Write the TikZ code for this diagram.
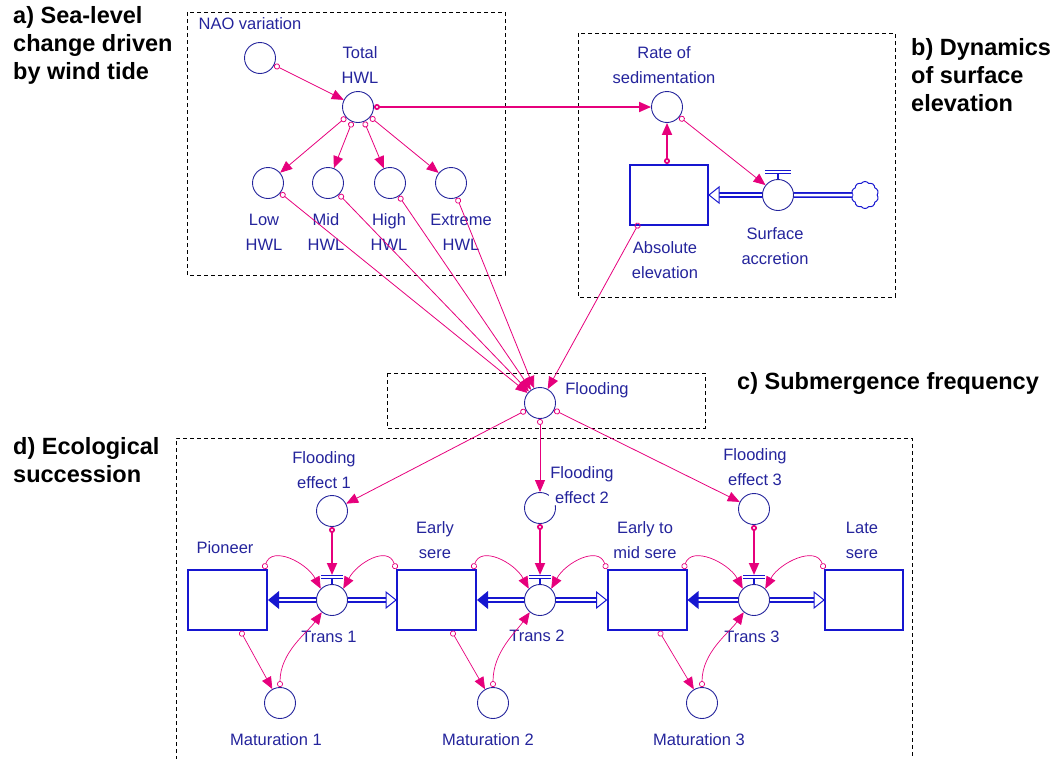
\documentclass[tikz,border=0pt]{standalone}
\usepackage{fontspec}
\setmainfont{Liberation Sans}
\usetikzlibrary{arrows.meta,shapes.symbols,calc}

\definecolor{lnk}{HTML}{E6007C}
\definecolor{navy}{HTML}{24249C}
\definecolor{stockblue}{HTML}{1616D0}

\begin{document}
\begin{tikzpicture}[x=1pt,y=-1pt,
  conv/.style={circle,draw=navy,fill=white,line width=0.9pt,minimum size=31pt,inner sep=0pt},
  stock/.style={rectangle,draw=stockblue,fill=white,line width=2pt,minimum width=79pt,minimum height=60pt,inner sep=0pt},
  cloudsrc/.style={cloud,cloud puffs=10,cloud puff arc=110,aspect=1,draw=stockblue,line width=1pt,minimum width=27pt,minimum height=27pt,inner sep=0pt},
  lbl/.style={text=navy,font=\fontsize{16.5}{25}\selectfont,align=center,inner sep=0pt},
  sec/.style={text=black,font=\fontsize{23.5}{28}\selectfont\bfseries,inner sep=0pt},
  zone/.style={draw=black,line width=0.9pt,dash pattern=on 4pt off 3pt},
  link/.style={draw=lnk,line width=0.8pt,{Circle[open,length=6pt,width=6pt]}-{Triangle[length=12pt,width=10pt]}},
  boldlink/.style={link,line width=1.8pt},
  arc/.style={link,line width=0.7pt},
  pipe/.style={draw=stockblue,double=white,double distance=2.5pt,line width=1.6pt},
  handle/.style={draw=stockblue,double=white,double distance=1.2pt,line width=1.1pt}
]
\useasboundingbox (0,0) rectangle (1063,758);

% sector frames
\draw[zone] (187,12) rectangle (505,275);
\draw[zone] (578,33) rectangle (895,297);
\draw[zone] (387,373) rectangle (705,428);
\draw[zone] (176,760) -- (176,438) -- (912,438) -- (912,760);

% sector titles
\node[sec,anchor=west,align=left] (seca) at (13,45) {a) Sea-level\\change driven\\by wind tide};
\node[sec,anchor=west,align=left] (secb) at (911,75) {b) Dynamics\\of surface\\elevation};
\node[sec,anchor=west] (secc) at (737,383) {c) Submergence frequency};
\node[sec,anchor=west,align=left] (secd) at (13,460) {d) Ecological\\succession};

% converters, stocks and valves
\node[conv] (nao) at (260,58) {};
\node[conv] (tot) at (358,107) {};
\node[conv] (low) at (268,183) {};
\node[conv] (mid) at (328,183) {};
\node[conv] (high) at (390,183) {};
\node[conv] (ext) at (451,183) {};
\node[conv] (rate) at (667,107) {};
\node[stock,minimum width=78pt] (abs) at (669,195) {};
\node[cloudsrc] (src) at (865,195) {};
\node[conv] (flood) at (540,403) {};
\node[conv] (fe1) at (332,511) {};
\node[conv] (fe2) at (540,508) {};
\node[conv] (fe3) at (754,509) {};
\node[stock] (pio) at (227.5,600) {};
\node[stock] (early) at (436.5,600) {};
\node[stock] (etm) at (647,600) {};
\node[stock,minimum width=78pt] (late) at (864,600) {};
\node[conv] (m1) at (280,703) {};
\node[conv] (m2) at (493,703) {};
\node[conv] (m3) at (702,703) {};

% surface accretion flow: cloud -> valve -> absolute elevation
\draw[pipe] (src.west) -- (778,195);
\draw[pipe] (778,195) -- ($(abs.east)+(10,0)$);
\draw[stockblue,line width=1pt,fill=white] (abs.east) -- ++(10,-8) -- ++(0,16) -- cycle;
\node[conv] (sacc) at (778,195) {};
\draw[handle] (765,172) -- (791,172);
\draw[stockblue,line width=1.2pt] (778,173) -- (sacc.north);

% succession flows between stages
\foreach \v/\x/\l/\r in {t1/332/pio/early, t2/540/early/etm, t3/754/etm/late}{
  \draw[pipe] (\x,600) -- ($(\l.east)+(10,0)$);
  \fill[stockblue] (\l.east) -- ++(11,-9) -- ++(0,18) -- cycle;
  \draw[pipe] (\x,600) -- ($(\r.west)+(-10,0)$);
  \draw[stockblue,line width=1pt,fill=white] (\r.west) -- ++(-10,-8) -- ++(0,16) -- cycle;
  \node[conv] (\v) at (\x,600) {};
  \draw[handle] (\x-11,577) -- (\x+11,577);
  \draw[stockblue,line width=1.2pt] (\x,578) -- (\v.north);
  \coordinate (\v h) at (\x,575);
}

% labels
\node[lbl] (lnao) at (250,24) {NAO variation};
\node[lbl] (ltot) at (360,65) {Total\\HWL};
\node[lbl] (llow) at (264,232) {Low\\HWL};
\node[lbl] (lmid) at (326,232) {Mid\\HWL};
\node[lbl] (lhigh) at (389,232) {High\\HWL};
\node[lbl] (lext) at (461,232) {Extreme\\HWL};
\node[lbl] (lrate) at (664,65) {Rate of\\sedimentation};
\node[lbl] (labs) at (665,260) {Absolute\\elevation};
\node[lbl] (lsacc) at (775,246) {Surface\\accretion};
\node[lbl] (lflood) at (597,390) {Flooding};
\node[lbl] (lfe1) at (324,470) {Flooding\\effect 1};
\node[lbl,fill=white,inner sep=1pt] (lfe2) at (582,485) {Flooding\\effect 2};
\node[lbl] (lfe3) at (755,467) {Flooding\\effect 3};
\node[lbl] (lpio) at (225,548) {Pioneer};
\node[lbl] (learly) at (435,540) {Early\\sere};
\node[lbl] (letm) at (645,540) {Early to\\mid sere};
\node[lbl] (llate) at (862,540) {Late\\sere};
\node[lbl] (lt1) at (329,637) {Trans 1};
\node[lbl] (lt2) at (537,636) {Trans 2};
\node[lbl] (lt3) at (752,637) {Trans 3};
\node[lbl] (lm1) at (276,740) {Maturation 1};
\node[lbl] (lm2) at (488,740) {Maturation 2};
\node[lbl] (lm3) at (699,740) {Maturation 3};

% sea-level connectors
\draw[link] (nao) -- (tot);
\draw[link] (tot) -- (low);
\draw[link] (tot) -- (mid);
\draw[link] (tot) -- (high);
\draw[link] (tot) -- (ext);
\draw[boldlink] (tot) -- (rate);

% surface elevation connectors
\draw[boldlink] (abs.north -| rate) -- (rate);
\draw[link] (rate) -- (sacc);

% submergence frequency
\draw[link] (low) -- (flood);
\draw[link] (mid) -- (flood);
\draw[link] (high) -- (flood);
\draw[link] (ext) -- (flood);
\draw[link] ($(abs.south west)+(10,-3)$) -- (flood);
\draw[link] (flood) -- (fe1);
\draw[link] (flood) -- (fe2);
\draw[link] (flood) -- (fe3);

% flooding effects on transitions
\draw[boldlink] (fe1) -- (t1h);
\draw[boldlink] (fe2) -- (t2h);
\draw[boldlink] (fe3) -- (t3h);

% stage feedbacks
\draw[arc] ($(pio.north east)+(-4,0)$) .. controls +(8,-24) and +(-14,-26) .. (t1.135);
\draw[arc] (early.north west) .. controls +(-8,-24) and +(14,-26) .. (t1.45);
\draw[arc] ($(early.north east)+(-4,0)$) .. controls +(8,-24) and +(-14,-26) .. (t2.135);
\draw[arc] (etm.north west) .. controls +(-8,-24) and +(14,-26) .. (t2.45);
\draw[arc] ($(etm.north east)+(-4,0)$) .. controls +(8,-24) and +(-14,-26) .. (t3.135);
\draw[arc] (late.north west) .. controls +(-8,-24) and +(14,-26) .. (t3.45);

% maturation loops
\draw[arc] ($(pio.south)+(13,0)$) -- (m1);
\draw[arc] (m1.north) .. controls +(0,-35) and +(-14,20) .. (t1.230);
\draw[arc] ($(early.south)+(15,0)$) -- (m2);
\draw[arc] (m2.north) .. controls +(0,-35) and +(-14,20) .. (t2.230);
\draw[arc] ($(etm.south)+(12,0)$) -- (m3);
\draw[arc] (m3.north) .. controls +(0,-35) and +(-14,20) .. (t3.230);
\end{tikzpicture}
\end{document}
